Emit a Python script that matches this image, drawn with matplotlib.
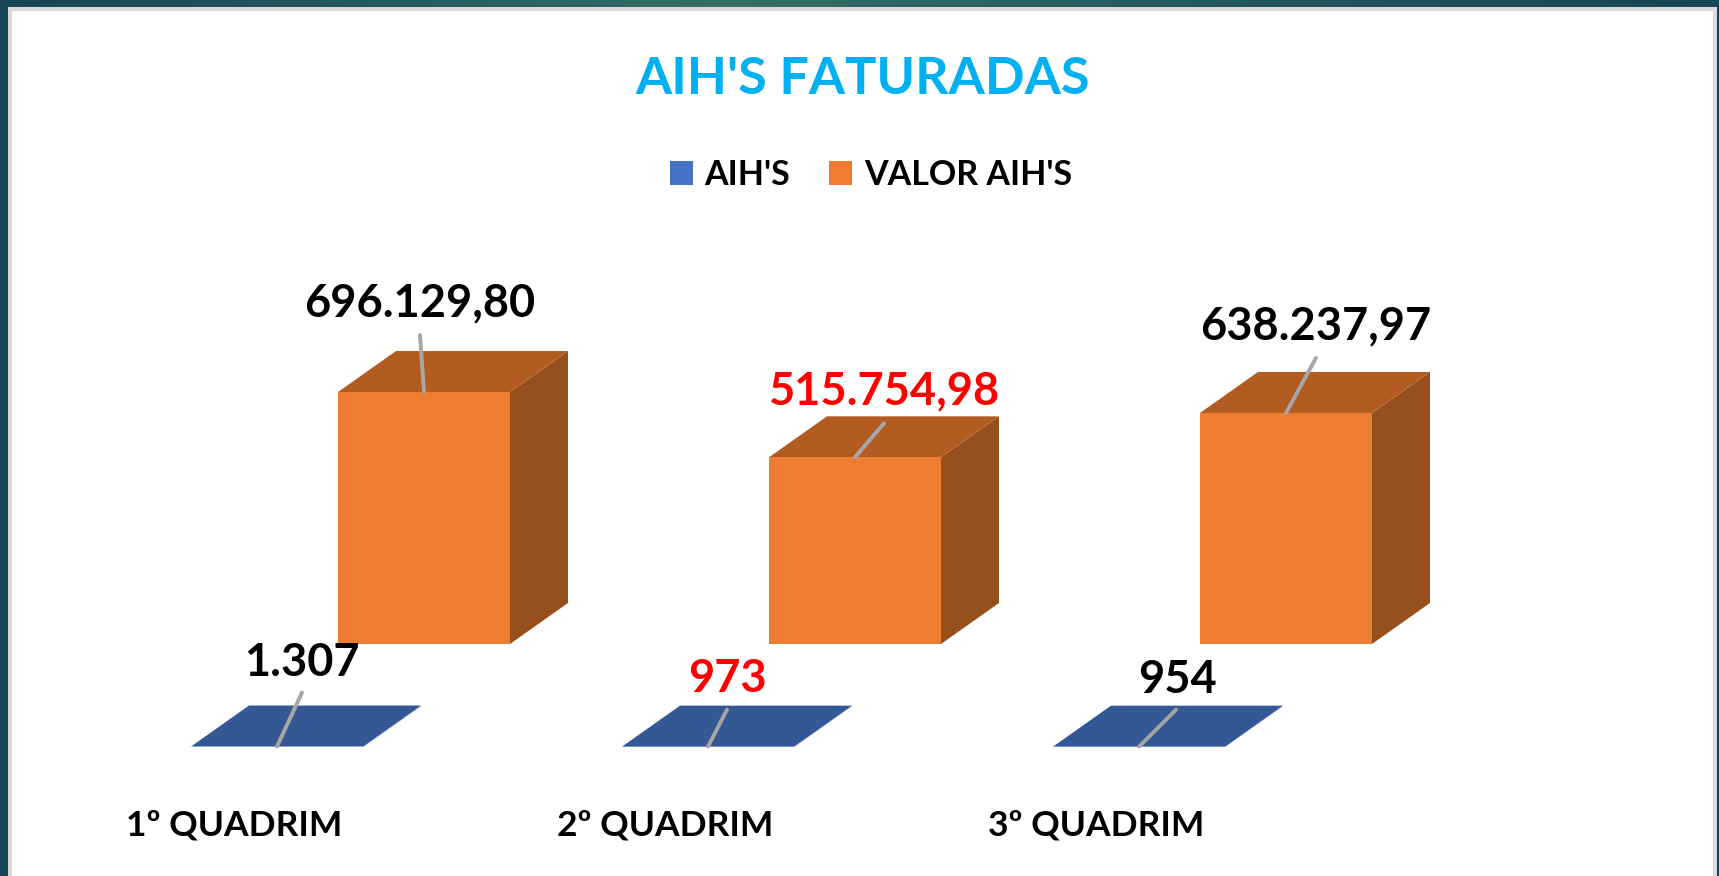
import numpy as np
import matplotlib
matplotlib.use('Agg')
import matplotlib.pyplot as plt

categorias = ['1º QUADRIM', '2º QUADRIM', '3º QUADRIM']
aihs = [1307, 973, 954]
valor_aihs = [696129.80, 515754.98, 638237.97]
rotulos_aihs = ['1.307', '973', '954']
rotulos_valor = ['696.129,80', '515.754,98', '638.237,97']
cores_aihs = ['black', 'red', 'black']
cores_valor = ['black', 'red', 'black']

W, H = 1719, 876
px_cat = 431
px_valor = 252 / 696129.80
x0_px, y0_px = 277, 747

plt.rcParams['font.family'] = ['Lato', 'DejaVu Sans']
fig = plt.figure(figsize=(W / 100, H / 100), dpi=100)

# fundo do slide
bg = fig.add_axes([0, 0, 1, 1])
stops = np.interp(np.linspace(0, 1, 300), [0, 0.25, 0.42, 0.7, 1], [0, 0.55, 1, 0.45, 0])
c1 = np.array([0x17, 0x45, 0x58]) / 255
c2 = np.array([0x38, 0x6e, 0x68]) / 255
img = (c1[None, :] + stops[:, None] * (c2 - c1)[None, :])[None, :, :]
bg.imshow(img, extent=(0, W, H, 0), aspect='auto')
bg.add_patch(plt.Rectangle((8, 7), W - 10, H, fc='#d9d9d9', ec='none'))
bg.add_patch(plt.Rectangle((12, 11), W - 18, H, fc='white', ec='none'))
bg.set_xlim(0, W)
bg.set_ylim(H, 0)
bg.axis('off')

ax = fig.add_axes([0, 0, 1, 1])
ax.patch.set_alpha(0)
ax.set_xlim(-x0_px / px_cat, (W - x0_px) / px_cat)
ax.set_ylim(-(H - y0_px) / px_valor, y0_px / px_valor)
ax.axis('off')

largura = 172 / px_cat
prof_x = 58 / px_cat
prof_y = 41 / px_valor
serie_x = 147 / px_cat
serie_y = 103 / px_valor


def barra_3d(x, v, base_x, base_y, frente, topo, lado):
    x1 = x + base_x - largura / 2
    x2 = x1 + largura
    y1 = base_y
    y2 = base_y + v
    ax.fill([x2, x2 + prof_x, x2 + prof_x, x2], [y1, y1 + prof_y, y2 + prof_y, y2], color=lado, lw=0)
    ax.fill([x1, x2, x2 + prof_x, x1 + prof_x], [y2, y2, y2 + prof_y, y2 + prof_y], color=topo, lw=0)
    return ax.fill([x1, x2, x2, x1], [y1, y1, y2, y2], color=frente, lw=0)[0]


xs = np.arange(len(categorias))
for x, v in zip(xs, aihs):
    h_aihs = barra_3d(x, v, 0, 0, '#4472c4', '#345795', '#2f5597')
for x, v in zip(xs, valor_aihs):
    h_valor = barra_3d(x, v, serie_x, serie_y, '#ed7d31', '#b35c22', '#96501e')

# linhas de chamada e rotulos (deslocamentos em pixels)
linha_aihs = [(25, 54), (19, 37), (37, 37)]
texto_aihs = [(25, 84), (19, 68), (38, 67)]
linha_valor = [(-4, 57), (29, 34), (30, 55)]
texto_valor = [(-4, 89), (30, 66), (30, 87)]

for x, v, l, t, s, c in zip(xs, aihs, linha_aihs, texto_aihs, rotulos_aihs, cores_aihs):
    ax.annotate('', xy=(x, v), xytext=l, textcoords='offset pixels',
                arrowprops=dict(arrowstyle='-', color='#a6a6a6', lw=2.8, shrinkA=0, shrinkB=0))
    ax.annotate(s, xy=(x, v), xytext=t, textcoords='offset pixels', ha='center', va='center',
                fontsize=32.5, fontweight='bold', color=c)

for x, v, l, t, s, c in zip(xs, valor_aihs, linha_valor, texto_valor, rotulos_valor, cores_valor):
    xb, yb = x + serie_x, v + serie_y
    ax.annotate('', xy=(xb, yb), xytext=l, textcoords='offset pixels',
                arrowprops=dict(arrowstyle='-', color='#a6a6a6', lw=2.8, shrinkA=0, shrinkB=0))
    ax.annotate(s, xy=(xb, yb), xytext=t, textcoords='offset pixels', ha='center', va='center',
                fontsize=32.5, fontweight='bold', color=c)

# eixo de categorias
for x, cat in zip(xs, categorias):
    ax.annotate(cat, xy=(x, 0), xytext=(-43, -78), textcoords='offset pixels', ha='center', va='center',
                fontsize=25.5, fontweight='bold', color='black')

fig.text(863 / W, 1 - 80 / H, "AIH'S FATURADAS", ha='center', va='center',
         fontsize=37.5, fontweight='bold', color='#00b0f0')

ax.legend([h_aihs, h_valor], ["AIH'S", "VALOR AIH'S"], loc='center',
          bbox_to_anchor=(871 / W, 1 - 175 / H), ncol=2, frameon=False,
          prop={'size': 24.5, 'weight': 'bold'}, handlelength=0.67, handleheight=0.67,
          handletextpad=0.35, columnspacing=1.15)

fig.savefig('out.png', dpi=100)
